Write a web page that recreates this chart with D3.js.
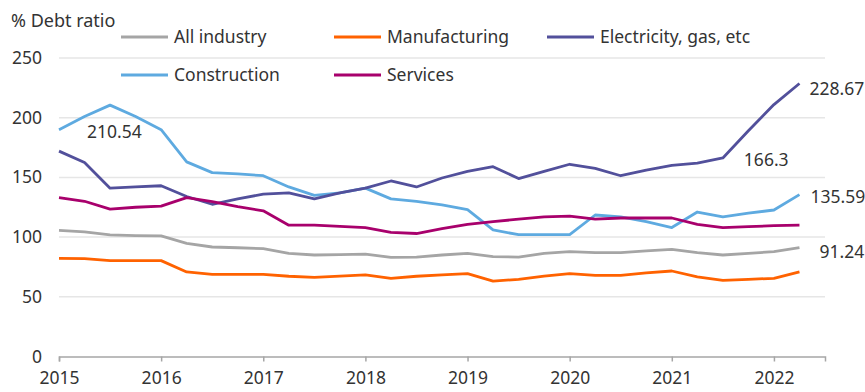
<!DOCTYPE html>
<html>
<head>
<meta charset="utf-8">
<script src="https://cdn.jsdelivr.net/npm/d3@7"></script>
<style>
  body { margin: 0; background: #fff; }
  svg text { font-family: "Noto Sans", "DejaVu Sans", sans-serif; fill: #333; }
</style>
</head>
<body>
<script>
// quarterly data, 2015Q1 .. 2022Q2
const years = ["2015","2016","2017","2018","2019","2020","2021","2022"];
const allIndustry = [105.7,104.3,101.8,101.2,101,94.8,91.7,91.1,90.3,86.4,85,85.3,85.8,83,83.3,85,86.4,83.6,83.3,86.4,87.8,87,87,88.4,89.8,87,85,86.4,87.8,91.24];
const manufacturing = [82.2,82,80.3,80.3,80.3,70.8,68.8,68.8,68.8,67.2,66.2,67.4,68.3,65.5,67.2,68.3,69.4,63.2,64.6,67.4,69.4,68,68,70,71.6,66.6,63.8,64.6,65.5,70.8];
const electricity = [172,162.5,141,142,143,134,127.5,132,136,137,132,137,141,147,142,149.5,155,159,149,155,161,157.6,151.4,156,160,162,166.3,189,211,228.67];
const construction = [190,201,210.54,201,190,163,154,153,151.4,142,135,137,141,132,130,127,123,106,102,102,102,118.5,117,113,108,121,117,120,122.7,135.59];
const services = [133,130,123.5,125,126,133,129.7,125.5,122,110,110,109,108,104,103,107,110.7,113,115,117,117.6,115,116,116,116,110.7,108,108.7,109.6,110];

const seriesNames = ["All industry","Manufacturing","Electricity, gas, etc","Construction","Services"];
const seriesColors = ["#a5a5a5","#ff6200","#52509b","#5eaae0","#a8006c"];
const seriesValues = [allIndustry, manufacturing, electricity, construction, services];
const yTicks = [0,50,100,150,200,250];

const W = 865, H = 392;
const svg = d3.select("body").append("svg").attr("width", W).attr("height", H);

const x = d3.scaleLinear().domain([0, 30]).range([59, 825]);
const y = d3.scaleLinear().domain([0, 250]).range([356.5, 58]);

// gridlines
svg.append("g").selectAll("line")
  .data(yTicks.filter(d => d > 0))
  .enter().append("line")
  .attr("x1", x(0)).attr("x2", x(30))
  .attr("y1", d => y(d)).attr("y2", d => y(d))
  .attr("stroke", "#e6e6e6").attr("stroke-width", 1.5);

// y axis labels
svg.append("g").selectAll("text")
  .data(yTicks)
  .enter().append("text")
  .attr("x", 42).attr("y", d => y(d) + 6)
  .attr("text-anchor", "end")
  .style("font-size", "17.5px")
  .text(d => d);

// x axis
const xAxis = svg.append("g")
  .attr("transform", "translate(0," + y(0) + ")")
  .call(d3.axisBottom(x)
    .tickValues(d3.range(0, 30, 4))
    .tickFormat((d, i) => years[i])
    .tickSizeOuter(0)
    .tickSize(5)
    .tickPadding(10));
xAxis.select(".domain").attr("stroke", "#a6a6a6").attr("stroke-width", 1.5);
xAxis.selectAll(".tick line").attr("stroke", "#a6a6a6").attr("stroke-width", 1.5);
xAxis.selectAll(".tick text").style("font-size", "17.5px").attr("fill", "#333")
  .style("font-family", "'Noto Sans', sans-serif");

svg.append("text").attr("x", 11).attr("y", 27).style("font-size", "18px").text("% Debt ratio");

// lines
const line = d3.line().x((d, i) => x(i)).y(d => y(d));
const draw = [3, 0, 1, 2, 4];
svg.append("g").selectAll("path")
  .data(draw)
  .enter().append("path")
  .attr("d", k => line(seriesValues[k]))
  .attr("fill", "none")
  .attr("stroke", k => seriesColors[k])
  .attr("stroke-width", 2.8)
  .attr("stroke-linejoin", "round");

// legend
const legendPos = [[121, 38], [334, 38], [547, 38], [121, 76], [334, 76]];
const lg = svg.append("g").selectAll("g")
  .data(seriesNames)
  .enter().append("g")
  .attr("transform", (d, i) => "translate(" + legendPos[i][0] + "," + legendPos[i][1] + ")");
lg.append("line").attr("x1", 0).attr("x2", 47).attr("y1", -1).attr("y2", -1)
  .attr("stroke", (d, i) => seriesColors[i]).attr("stroke-width", 2.8);
lg.append("text").attr("x", 53).attr("y", 5).style("font-size", "17.5px").text(d => d);

// value labels
const labels = [
  {s: 3, i: 2, dx: -23, dy: 33},
  {s: 2, i: 29, dx: 10, dy: 12},
  {s: 2, i: 26, dx: 21, dy: 8},
  {s: 3, i: 29, dx: 11, dy: 8},
  {s: 0, i: 29, dx: 20, dy: 10}
];
svg.append("g").selectAll("text")
  .data(labels)
  .enter().append("text")
  .attr("x", d => x(d.i) + d.dx)
  .attr("y", d => y(seriesValues[d.s][d.i]) + d.dy)
  .style("font-size", "17.5px")
  .text(d => seriesValues[d.s][d.i]);
</script>
</body>
</html>
